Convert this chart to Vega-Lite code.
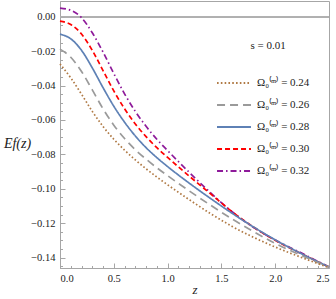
{
  "$schema": "https://vega.github.io/schema/vega-lite/v6.json",
  "autosize": "none",
  "padding": {"left": 60, "top": 1, "right": 7, "bottom": 31},
  "width": 269,
  "height": 267,
  "background": "white",
  "config": {
    "view": {"stroke": "#a6a6a6", "strokeWidth": 1},
    "axis": {"grid": false, "domainColor": "#a6a6a6", "tickColor": "#a6a6a6", "labelFont": "Liberation Serif", "labelFontSize": 10.5, "labelColor": "#222222", "titleFont": "Liberation Serif", "titleFontStyle": "italic", "titleFontWeight": "normal", "titleFontSize": 14, "titleColor": "#222222"}
  },
  "data": {"values": [
    {"z": 0, "E": 0.0051, "om": "0.32"}, {"z": 0.1, "E": 0.0038, "om": "0.32"}, {"z": 0.2, "E": -0.0005, "om": "0.32"}, {"z": 0.3, "E": -0.0093, "om": "0.32"}, {"z": 0.4, "E": -0.0205, "om": "0.32"}, {"z": 0.5, "E": -0.033, "om": "0.32"}, {"z": 0.6, "E": -0.0448, "om": "0.32"}, {"z": 0.7, "E": -0.055, "om": "0.32"}, {"z": 0.8, "E": -0.0637, "om": "0.32"}, {"z": 0.9, "E": -0.0712, "om": "0.32"}, {"z": 1.0, "E": -0.0778, "om": "0.32"}, {"z": 1.2, "E": -0.0904, "om": "0.32"}, {"z": 1.4, "E": -0.1024, "om": "0.32"}, {"z": 1.6, "E": -0.1134, "om": "0.32"}, {"z": 1.8, "E": -0.1226, "om": "0.32"}, {"z": 2.0, "E": -0.1298, "om": "0.32"}, {"z": 2.25, "E": -0.1376, "om": "0.32"}, {"z": 2.5, "E": -0.1455, "om": "0.32"},
    {"z": 0, "E": -0.0025, "om": "0.30"}, {"z": 0.1, "E": -0.0045, "om": "0.30"}, {"z": 0.2, "E": -0.01, "om": "0.30"}, {"z": 0.3, "E": -0.0195, "om": "0.30"}, {"z": 0.4, "E": -0.0313, "om": "0.30"}, {"z": 0.5, "E": -0.0431, "om": "0.30"}, {"z": 0.6, "E": -0.0535, "om": "0.30"}, {"z": 0.7, "E": -0.0623, "om": "0.30"}, {"z": 0.8, "E": -0.0697, "om": "0.30"}, {"z": 0.9, "E": -0.0761, "om": "0.30"}, {"z": 1.0, "E": -0.0818, "om": "0.30"}, {"z": 1.2, "E": -0.0926, "om": "0.30"}, {"z": 1.4, "E": -0.103, "om": "0.30"}, {"z": 1.6, "E": -0.1134, "om": "0.30"}, {"z": 1.8, "E": -0.1224, "om": "0.30"}, {"z": 2.0, "E": -0.13, "om": "0.30"}, {"z": 2.25, "E": -0.138, "om": "0.30"}, {"z": 2.5, "E": -0.1455, "om": "0.30"},
    {"z": 0, "E": -0.0101, "om": "0.28"}, {"z": 0.1, "E": -0.0128, "om": "0.28"}, {"z": 0.2, "E": -0.0195, "om": "0.28"}, {"z": 0.3, "E": -0.0297, "om": "0.28"}, {"z": 0.4, "E": -0.0412, "om": "0.28"}, {"z": 0.5, "E": -0.052, "om": "0.28"}, {"z": 0.6, "E": -0.0613, "om": "0.28"}, {"z": 0.7, "E": -0.0693, "om": "0.28"}, {"z": 0.8, "E": -0.0761, "om": "0.28"}, {"z": 0.9, "E": -0.0819, "om": "0.28"}, {"z": 1.0, "E": -0.0871, "om": "0.28"}, {"z": 1.2, "E": -0.0967, "om": "0.28"}, {"z": 1.4, "E": -0.1057, "om": "0.28"}, {"z": 1.6, "E": -0.1143, "om": "0.28"}, {"z": 1.8, "E": -0.1223, "om": "0.28"}, {"z": 2.0, "E": -0.1297, "om": "0.28"}, {"z": 2.25, "E": -0.138, "om": "0.28"}, {"z": 2.5, "E": -0.1455, "om": "0.28"},
    {"z": 0, "E": -0.0188, "om": "0.26"}, {"z": 0.1, "E": -0.0235, "om": "0.26"}, {"z": 0.2, "E": -0.0318, "om": "0.26"}, {"z": 0.3, "E": -0.0425, "om": "0.26"}, {"z": 0.4, "E": -0.0535, "om": "0.26"}, {"z": 0.5, "E": -0.063, "om": "0.26"}, {"z": 0.6, "E": -0.0708, "om": "0.26"}, {"z": 0.7, "E": -0.0773, "om": "0.26"}, {"z": 0.8, "E": -0.0828, "om": "0.26"}, {"z": 0.9, "E": -0.0878, "om": "0.26"}, {"z": 1.0, "E": -0.0924, "om": "0.26"}, {"z": 1.2, "E": -0.1012, "om": "0.26"}, {"z": 1.4, "E": -0.1096, "om": "0.26"}, {"z": 1.6, "E": -0.1176, "om": "0.26"}, {"z": 1.8, "E": -0.125, "om": "0.26"}, {"z": 2.0, "E": -0.1318, "om": "0.26"}, {"z": 2.25, "E": -0.139, "om": "0.26"}, {"z": 2.5, "E": -0.1456, "om": "0.26"},
    {"z": 0, "E": -0.0274, "om": "0.24"}, {"z": 0.1, "E": -0.0355, "om": "0.24"}, {"z": 0.2, "E": -0.045, "om": "0.24"}, {"z": 0.3, "E": -0.055, "om": "0.24"}, {"z": 0.4, "E": -0.0638, "om": "0.24"}, {"z": 0.5, "E": -0.0712, "om": "0.24"}, {"z": 0.6, "E": -0.0775, "om": "0.24"}, {"z": 0.7, "E": -0.0832, "om": "0.24"}, {"z": 0.8, "E": -0.0884, "om": "0.24"}, {"z": 0.9, "E": -0.0932, "om": "0.24"}, {"z": 1.0, "E": -0.0977, "om": "0.24"}, {"z": 1.2, "E": -0.1063, "om": "0.24"}, {"z": 1.4, "E": -0.1145, "om": "0.24"}, {"z": 1.6, "E": -0.1219, "om": "0.24"}, {"z": 1.8, "E": -0.1283, "om": "0.24"}, {"z": 2.0, "E": -0.1339, "om": "0.24"}, {"z": 2.25, "E": -0.1401, "om": "0.24"}, {"z": 2.5, "E": -0.1459, "om": "0.24"}
  ]},
  "layer": [
    {
      "mark": {"type": "rule", "color": "#b0b0b0", "strokeWidth": 1},
      "encoding": {
        "x": {"datum": 0, "type": "quantitative", "axis": {"orient": "bottom", "values": [0.1,0.2,0.3,0.4,0.6,0.7,0.8,0.9,1.1,1.2,1.3,1.4,1.6,1.7,1.8,1.9,2.1,2.2,2.3,2.4], "labels": false, "domain": false, "tickSize": -2.5, "title": null}},
        "x2": {"datum": 2.5},
        "y": {"datum": 0, "type": "quantitative", "axis": {"orient": "left", "values": [-0.145,-0.135,-0.13,-0.125,-0.115,-0.11,-0.105,-0.095,-0.09,-0.085,-0.075,-0.07,-0.065,-0.055,-0.05,-0.045,-0.035,-0.03,-0.025,-0.015,-0.01,-0.005,0.005], "labels": false, "domain": false, "tickSize": -2.5, "title": null}}
      }
    },
    {
      "mark": {"type": "line", "strokeWidth": 1.7, "interpolate": "monotone"},
      "encoding": {
        "x": {"field": "z", "type": "quantitative", "scale": {"domain": [0, 2.5], "nice": false, "zero": false}, "axis": {"orient": "bottom", "values": [0, 0.5, 1, 1.5, 2, 2.5], "format": ".1f", "tickSize": -5, "labelPadding": 10, "title": "z", "titlePadding": 0, "titleFontSize": 13}},
        "y": {"field": "E", "type": "quantitative", "scale": {"domain": [-0.1461, 0.0092], "nice": false, "zero": false}, "axis": {"orient": "left", "values": [-0.14, -0.12, -0.1, -0.08, -0.06, -0.04, -0.02, 0], "format": ".2f", "tickSize": -5, "labelPadding": 10, "title": "Ef(z)", "titleAngle": 0, "titleAlign": "center", "titleBaseline": "middle", "titleX": -43, "titleY": 142}},
        "color": {"field": "om", "type": "nominal", "scale": {"domain": ["0.24", "0.26", "0.28", "0.30", "0.32"], "range": ["#b07a45", "#9a9a9a", "#5e81b5", "#ff0000", "#8e1a9a"]},
          "legend": {"orient": "none", "legendX": 167, "legendY": 39, "title": "s = 0.01", "titleFont": "Liberation Serif", "titleFontWeight": "normal", "titleFontSize": 11, "titleColor": "#222222", "titleAnchor": "middle", "titlePadding": 25, "symbolType": "M-3,0H3", "symbolSize": 128, "symbolStrokeWidth": 1.8, "labelFont": "Liberation Serif", "labelFontSize": 11, "labelColor": "#222222", "labelOffset": 16, "rowPadding": 10, "labelExpr": "'Ω₀⁽ᵐ⁾ = ' + datum.label"}},
        "strokeDash": {"field": "om", "type": "nominal", "scale": {"domain": ["0.24", "0.26", "0.28", "0.30", "0.32"], "range": [[1.6, 2.2], [8, 5], [1, 0], [5, 3], [6, 3, 1.5, 3]]},
          "legend": {"orient": "none", "legendX": 167, "legendY": 39, "title": "s = 0.01", "titleFont": "Liberation Serif", "titleFontWeight": "normal", "titleFontSize": 11, "titleColor": "#222222", "titleAnchor": "middle", "titlePadding": 25, "symbolType": "M-3,0H3", "symbolSize": 128, "symbolStrokeWidth": 1.8, "labelFont": "Liberation Serif", "labelFontSize": 11, "labelColor": "#222222", "labelOffset": 16, "rowPadding": 10, "labelExpr": "'Ω₀⁽ᵐ⁾ = ' + datum.label"}}
      }
    }
  ],
  "resolve": {"axis": {"x": "independent", "y": "independent"}}
}
